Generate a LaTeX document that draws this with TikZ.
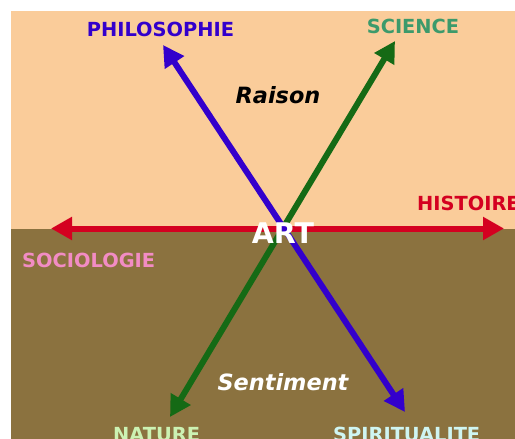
\documentclass[tikz,border=0pt]{standalone}
\usepackage{fontspec}
\setmainfont{DejaVu Sans}
\usepackage{xcolor}
\usepackage{tikz}
\usetikzlibrary{arrows.meta}
\definecolor{ARTpeach}{HTML}{FACC9A}
\definecolor{ARTbrown}{HTML}{8B723F}
\definecolor{ARTred}{HTML}{D40020}
\definecolor{ARTblue}{HTML}{3300CC}
\definecolor{ARTgreen}{HTML}{156A15}
\definecolor{ARTsea}{HTML}{3C9A6B}
\definecolor{ARTpink}{HTML}{F28CC4}
\definecolor{ARTmint}{HTML}{CCF2B3}
\definecolor{ARTice}{HTML}{CFF5F2}

\begin{document}
\begin{tikzpicture}[x=1pt, y=-1pt,
    axis/.style={line width=6pt, {Triangle[length=21pt,width=22pt]}-{Triangle[length=21pt,width=22pt]}},
    pole/.style={inner sep=0pt, font=\fontsize{19.4}{21}\bfseries},
    mood/.style={inner sep=0pt, font=\fontsize{22.4}{24}\bfseries\itshape}]
      \useasboundingbox (0,0) rectangle (515,439);
      \fill[white] (0,0) rectangle (515,439);
      \clip (0,0) rectangle (515,439);
      % the two halves
      \fill[ARTpeach] (11,11) rectangle (515,228.5);
      \fill[ARTbrown] (11,228.5) rectangle (515,439);
      % arrow ends
      \coordinate (philo-tip) at (163,45);
      \coordinate (spirit-tip) at (405,412);
      \coordinate (science-tip) at (395,41);
      \coordinate (nature-tip) at (170,417);
      \coordinate (socio-tip) at (51,228.5);
      \coordinate (hist-tip) at (504,228.5);
      \draw[axis, ARTred] (socio-tip) -- (hist-tip);
      \draw[axis, ARTgreen] (science-tip) -- (nature-tip);
      \draw[axis, ARTblue] (philo-tip) -- (spirit-tip);
      % labels
      \node[pole, ARTblue, anchor=base] (philo) at (160.5,36) {PHILOSOPHIE};
      \node[pole, ARTsea, anchor=base] (science) at (413,34) {SCIENCE};
      \node[pole, ARTred, anchor=base west] (hist) at (417,210) {HISTOIRE};
      \node[pole, ARTpink, anchor=base west] (socio) at (22,267) {SOCIOLOGIE};
      \node[pole, ARTmint, anchor=base west] (nature) at (113,441) {NATURE};
      \node[pole, ARTice, anchor=base west] (spirit) at (333,441) {SPIRITUALITE};
      \node[mood, black, anchor=base] (raison) at (278,103) {Raison};
      \node[mood, white, anchor=base] (sentiment) at (283,390) {Sentiment};
      \node[inner sep=0pt, white, anchor=base, font=\fontsize{28.5}{30}\bfseries] (art) at (283,243) {ART};
    \end{tikzpicture}
\end{document}
